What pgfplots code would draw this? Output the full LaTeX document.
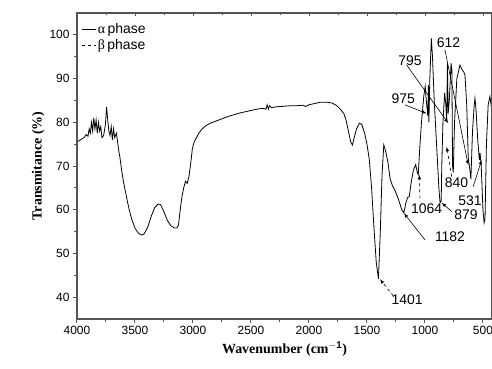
\documentclass[border=0pt]{standalone}
\usepackage{pgfplots}
\pgfplotsset{compat=1.18}
\usepackage{fontspec}
\setmainfont{Liberation Sans}
\newfontfamily\serifb{Liberation Serif}
\definecolor{axgray}{RGB}{85,85,85}
\begin{document}
\begin{tikzpicture}
\begin{axis}[
  scale only axis, width=415bp, height=306bp,
  x dir=reverse, xmin=422, xmax=4000, ymin=35, ymax=105,
  xtick={500,1000,...,4000}, ytick={40,50,...,100},
  minor x tick num=1, minor y tick num=1,
  xtick pos=bottom, ytick pos=left, tick align=outside,
  major tick length=4bp, minor tick length=2.5bp,
  axis line style={axgray, line width=1.1pt},
  every tick/.style={axgray, line width=1pt},
  /pgf/number format/assume math mode=true,
  /pgf/number format/1000 sep={},
  tick label style={font=\fontsize{12}{14}\selectfont},
  xlabel={\serifb\bfseries Wavenumber (cm$^{\mathbf{-1}}$)},
  ylabel={\serifb\bfseries Transmitance (\%)},
  xlabel style={font=\fontsize{14}{16}\selectfont, yshift=0bp},
  ylabel style={font=\fontsize{14}{16}\selectfont, yshift=-2bp},
  legend style={draw=none, fill=none, at={(0.008,0.975)}, anchor=north west,
    nodes={font=\fontsize{14}{15}\selectfont}, row sep=0pt, inner sep=1pt},
  legend cell align=left,
  legend image post style={xscale=0.8},
  clip=true,
]
\addplot[black, line width=0.8pt] coordinates {
(4000,75.5) (3970,76.0) (3940,76.5) (3920,77.2) (3905,76.8) (3895,78.5) (3885,77.5)
(3875,80.0) (3865,78.0) (3855,81.0) (3845,78.5) (3835,80.5) (3825,77.5) (3815,80.0)
(3805,78.0) (3795,79.0) (3785,76.5) (3770,77.0) (3755,79.5) (3745,83.5) (3735,80.5)
(3725,78.0) (3715,77.0) (3705,79.0) (3695,76.0) (3685,78.5) (3675,76.5) (3660,77.5)
(3650,75.5) (3640,73.5) (3630,72.0) (3615,69.0) (3600,66.5) (3585,64.5) (3570,62.5)
(3550,60.0) (3530,58.0) (3500,55.8) (3470,54.6) (3440,54.2) (3420,54.5) (3390,56.0)
(3360,58.5) (3330,60.5) (3300,61.3) (3280,61.2) (3250,59.5) (3220,57.5) (3190,56.3)
(3160,55.8) (3140,55.8) (3125,56.5) (3110,60.0) (3095,63.0) (3080,65.0) (3065,66.5)
(3050,66.0) (3035,67.5) (3020,70.5) (3005,74.0) (2990,75.5) (2970,76.5) (2950,77.5)
(2920,78.5) (2890,79.2) (2850,79.8) (2800,80.3) (2750,80.8) (2700,81.3) (2650,81.7)
(2600,82.1) (2550,82.4) (2500,82.7) (2450,83.0) (2400,83.2) (2370,83.0) (2360,84.0)
(2350,83.0) (2340,83.8) (2320,83.3) (2300,83.5) (2250,83.6) (2200,83.7) (2150,83.8)
(2100,83.8) (2050,83.9) (2030,83.6) (2000,84.0) (1950,84.3) (1900,84.6) (1850,84.6)
(1800,84.4) (1760,83.8) (1730,83.0) (1700,82.0) (1680,80.5) (1660,78.0) (1640,75.5)
(1625,74.8) (1610,76.5) (1590,78.5) (1565,79.8) (1545,79.5) (1520,77.5) (1500,75.0)
(1480,71.5) (1460,65.0) (1440,56.0) (1420,48.0) (1401,44.2) (1385,55.0) (1370,68.0)
(1355,74.8) (1340,73.5) (1320,71.0) (1300,67.0) (1280,65.5) (1260,64.5) (1230,62.5)
(1200,60.0) (1182,59.3) (1165,61.5) (1150,62.8) (1135,63.0) (1120,66.0) (1100,69.0)
(1080,70.3) (1064,68.3) (1058,68.0) (1045,74.0) (1030,80.0) (1010,86.0) (998,88.2)
(985,84.0) (975,81.5) (970,88.5) (966,80.0) (958,90.0) (945,99.2) (935,95.0)
(920,85.0) (900,75.0) (880,65.0) (870,61.6) (860,62.0) (855,70.0) (845,80.0)
(830,86.7) (820,84.0) (813,80.2) (806,93.5) (800,82.0) (790,85.0) (775,93.5)
(768,92.0) (762,70.0) (756,68.5) (745,80.0) (725,90.0) (698,93.1) (680,92.0)
(665,91.5) (655,90.8) (640,84.0) (627,72.0) (612,69.0) (604,67.0) (590,78.0)
(575,84.0) (569,85.5) (560,83.0) (545,76.0) (531,71.4) (525,73.0) (515,70.0)
(500,60.0) (490,57.0) (482,58.0) (470,75.0) (455,84.0) (440,85.9) (425,83.0)
};
\addlegendentry{{\serifb α}\,phase}
\addlegendimage{black, dashed, line width=0.6pt}
\addlegendentry{{\serifb β}\,phase}
% annotations
\begin{scope}[every node/.style={font=\fontsize{14}{15}\selectfont, inner sep=0pt}]
\node at (axis cs:797,98.1) {612};
\node at (axis cs:1129,94.1) {795};
\node at (axis cs:1187,85.3) {975};
\node at (axis cs:727,66.2) {840};
\node at (axis cs:612,62.1) {531};
\node at (axis cs:647,58.8) {879};
\node at (axis cs:986,60.3) {1064};
\node at (axis cs:784,53.8) {1182};
\node at (axis cs:1153,39.4) {1401};
\end{scope}
\begin{scope}[-latex, line width=0.6pt]
\draw (axis cs:828,96.6) -- (axis cs:627,70.2);
\draw (axis cs:1158,93.1) -- (axis cs:799,79.8);
\draw (axis cs:1172,84.0) -- (axis cs:986,82.0);
\draw[dashed] (axis cs:770,67.6) -- (axis cs:813,74.4);
\draw (axis cs:584,65.3) -- (axis cs:511,71.4);
\draw (axis cs:770,59.6) -- (axis cs:857,61.6);
\draw[dashed] (axis cs:1043,62.6) -- (axis cs:1049,68.0);
\draw (axis cs:1000,53.1) -- (axis cs:1181,59.2);
\draw[dashed] (axis cs:1273,40.3) -- (axis cs:1388,44.1);
\end{scope}
\end{axis}
\begin{axis}[
  scale only axis, width=415bp, height=306bp,
  x dir=reverse, xmin=422, xmax=4000, ymin=35, ymax=105,
  xtick={500,1000,...,4000}, minor x tick num=1, ytick=\empty,
  xtick pos=top, tick align=inside, xticklabels={},
  major tick length=3bp, minor tick length=2.5bp,
  axis line style={axgray, line width=1.1pt},
  every tick/.style={axgray, line width=0.8pt},
]
\end{axis}
\pgfresetboundingbox
\path ([shift={(-77bp,-50bp)}]current axis.south west) rectangle ([shift={(0bp,13bp)}]current axis.north east);
\end{tikzpicture}
\end{document}
